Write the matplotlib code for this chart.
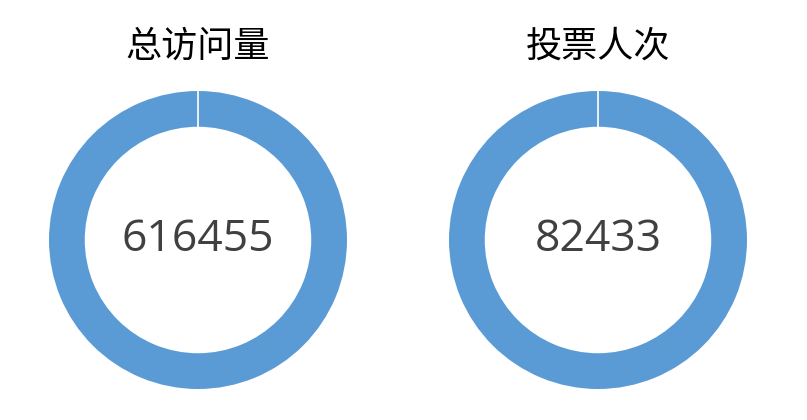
import matplotlib.pyplot as plt

# --- data ---
titles = ['总访问量', '投票人次']
values = [616455, 82433]
labels = ['616455', '82433']

ring_color = '#5b9bd5'
W, H = 807, 420
centers_x = [198, 598]   # ring centres in pixels
center_y = 240
radius_px = 149
ring_frac = 0.24

fig = plt.figure(figsize=(W / 100, H / 100), dpi=100)

for cx, title, val, lab in zip(centers_x, titles, values, labels):
    box = 152
    ax = fig.add_axes([(cx - box) / W, (H - center_y - box) / H, 2 * box / W, 2 * box / H])
    r = radius_px / box
    ax.pie([val], radius=r, startangle=90, counterclock=False,
           colors=[ring_color],
           wedgeprops=dict(width=ring_frac * r, edgecolor='none'))
    # thin seam where the single slice starts (12 o'clock)
    ax.plot([0, 0], [r * (1 - ring_frac) - 0.01, r + 0.01], color='white', lw=1.2)
    ax.set_xlim(-1, 1)
    ax.set_ylim(-1, 1)
    ax.set_aspect('equal')
    ax.axis('off')
    ax.text(0, 0, lab, ha='center', va='center', fontsize=32,
            family=['Open Sans', 'DejaVu Sans'], color='#404040')
    fig.text(cx / W, 1 - 47 / H, title, ha='center', va='center', fontsize=26,
             fontweight='medium',
             family=['Noto Sans CJK SC', 'DejaVu Sans'], color='black')

fig.savefig('out.png', dpi=100, facecolor='white')
